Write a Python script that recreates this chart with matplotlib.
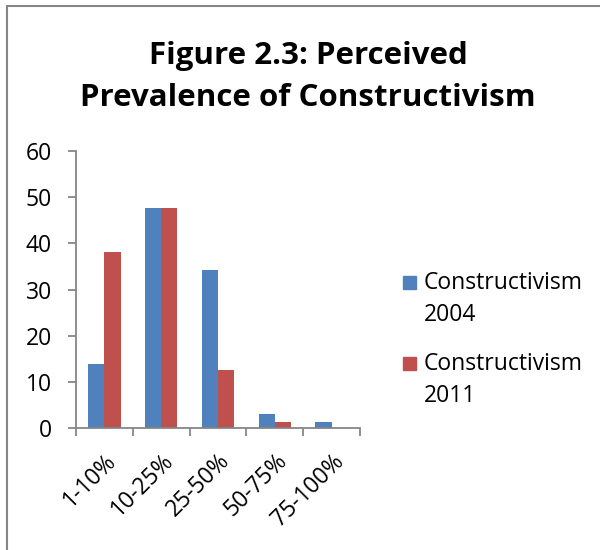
import numpy as np
import matplotlib
matplotlib.use('Agg')
import matplotlib.pyplot as plt
from matplotlib.patches import Rectangle

# Data
categories = ['1-10%', '10-25%', '25-50%', '50-75%', '75-100%']
series_names = ['Constructivism\n2004', 'Constructivism\n2011']
values_2004 = [13.9, 47.7, 34.3, 3.1, 1.4]
values_2011 = [38.1, 47.7, 12.6, 1.4, 0.0]
colors = ['#4F81BD', '#C0504D']

plt.rcParams['font.family'] = ['Open Sans', 'DejaVu Sans']

fig = plt.figure(figsize=(6, 5.5), dpi=100)
ax = fig.add_axes([0.1267, 0.2213, 0.4733, 0.5042])

x = np.arange(len(categories))
w = 1 / 3.5
ax.bar(x - w / 2, values_2004, width=w, color=colors[0])
ax.bar(x + w / 2, values_2011, width=w, color=colors[1])

ax.set_xlim(-0.5, len(categories) - 0.5)
ax.set_ylim(0, 60)
ax.set_yticks(range(0, 61, 10))
ax.set_xticks(np.arange(len(categories) + 1) - 0.5)
ax.set_xticklabels([])
ax.set_xticks(x, minor=True)
ax.set_xticklabels(categories, minor=True, rotation=45, ha='right',
                   rotation_mode='anchor', fontsize=16.5)
ax.tick_params(axis='x', which='minor', length=0, pad=15)
ax.tick_params(axis='x', which='major', length=5.5, width=1.3, color='#868686')
ax.tick_params(axis='y', length=5.5, width=1.3, color='#868686', labelsize=16.5, pad=12)

for s in ['top', 'right']:
    ax.spines[s].set_visible(False)
for s in ['left', 'bottom']:
    ax.spines[s].set_color('#868686')
    ax.spines[s].set_linewidth(1.3)

fig.text(308 / 600, 1 - 77 / 550, 'Figure 2.3: Perceived\nPrevalence of Constructivism',
         ha='center', va='center', fontsize=22.5, fontweight='bold', linespacing=1.52)

# legend, marker next to the first line of each entry
for i, name in enumerate(series_names):
    y0 = 1 - (282 + 81 * i) / 550
    fig.patches.append(Rectangle((403 / 600, y0 - 6.5 / 550), 13 / 600, 13 / 550,
                                 transform=fig.transFigure, color=colors[i]))
    fig.text(424 / 600, y0 + 11 / 550, name, ha='left', va='top', fontsize=16.5,
             linespacing=1.42)

# chart frame
fig.patches.append(Rectangle((7 / 600, -0.1), 1.2, 1.1 - 6 / 550, transform=fig.transFigure,
                             fill=False, edgecolor='#868686', linewidth=1.5))

fig.savefig('out.png', dpi=100)
